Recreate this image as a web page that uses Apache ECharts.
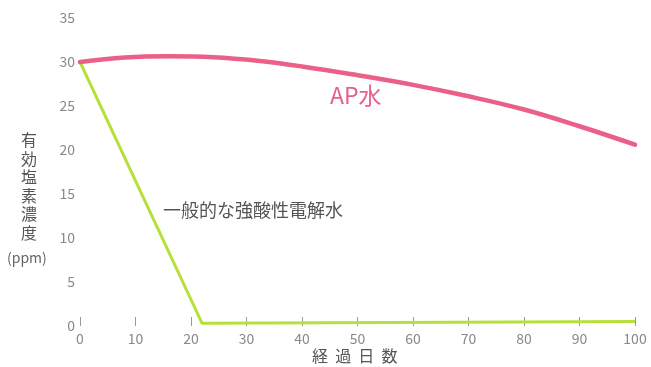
<!DOCTYPE html>
<html>
<head>
<meta charset="utf-8">
<script src="https://cdn.jsdelivr.net/npm/echarts@6/dist/echarts.min.js"></script>
<style>
    html, body { margin: 0; padding: 0; background: #fff; }
    #chart { width: 651px; height: 367px; }
</style>
</head>
<body>
<div id="chart"></div>
<script>
    // 経過日数と有効塩素濃度 (ppm)
    const apDays = [0, 8, 16, 24, 32, 40, 50, 60, 70, 80, 90, 100]
    const apValues = [30, 30.5, 30.65, 30.55, 30.15, 29.5, 28.5, 27.4, 26.1, 24.6, 22.7, 20.6]
    const acidDays = [0, 22, 100]
    const acidValues = [30, 0.3, 0.5]
    const xTicks = [0, 10, 20, 30, 40, 50, 60, 70, 80, 90, 100]
    const yTicks = [0, 5, 10, 15, 20, 25, 30, 35]

    const font = '"Noto Sans CJK JP", "Noto Sans", sans-serif'

    let chart = echarts.init(document.getElementById('chart'))
    chart.setOption({
        animation: false,
        grid: { left: 80, right: 16, top: 18, bottom: 41 },
        xAxis: {
            type: 'value',
            min: xTicks[0],
            max: xTicks[xTicks.length - 1],
            interval: 10,
            axisLine: { show: false },
            axisTick: { show: true, inside: true, length: 9, lineStyle: { color: '#999', width: 1 } },
            splitLine: { show: false },
            axisLabel: { color: '#888', fontSize: 14, fontFamily: font, margin: 6 }
        },
        yAxis: {
            type: 'value',
            min: yTicks[0],
            max: yTicks[yTicks.length - 1],
            interval: 5,
            axisLine: { show: false },
            axisTick: { show: false },
            splitLine: { show: false },
            axisLabel: { color: '#888', fontSize: 14, fontFamily: font, margin: 5 }
        },
        series: [
            {
                name: 'AP水',
                type: 'line',
                smooth: 0.4,
                symbol: 'none',
                data: apDays.map((d, i) => [d, apValues[i]]),
                lineStyle: { color: '#ea6088', width: 4.5, cap: 'round' },
                z: 3
            },
            {
                name: '一般的な強酸性電解水',
                type: 'line',
                symbol: 'none',
                data: acidDays.map((d, i) => [d, acidValues[i]]),
                lineStyle: { color: '#b6e03c', width: 3 },
                z: 2
            }
        ],
        graphic: [
            {
                type: 'text', left: 330, top: 84,
                style: { text: 'AP水', fill: '#e8608a', font: '23px ' + font }
            },
            {
                type: 'text', left: 163, top: 201,
                style: { text: '一般的な強酸性電解水', fill: '#555', font: '18px ' + font }
            },
            {
                type: 'text', left: 21, top: 131,
                style: { text: '有\n効\n塩\n素\n濃\n度', fill: '#555', font: '16px ' + font, lineHeight: 18.5 }
            },
            {
                type: 'text', left: 7, top: 251,
                style: { text: '(ppm)', fill: '#666', font: '14px ' + font }
            },
            {
                type: 'text', left: 312, top: 348,
                style: { text: '経  過  日  数', fill: '#555', font: '16px ' + font }
            }
        ]
    })
</script>
</body>
</html>
